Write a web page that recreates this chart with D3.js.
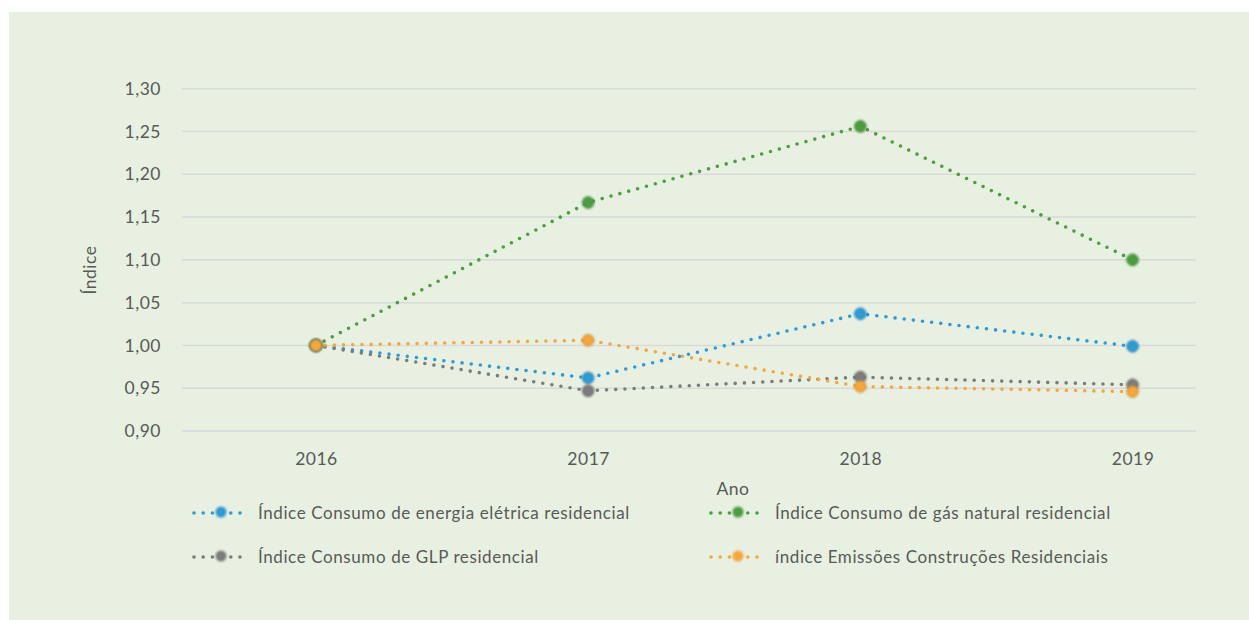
<!DOCTYPE html>
<html>
<head>
<meta charset="utf-8">
<script src="https://cdn.jsdelivr.net/npm/d3@7"></script>
<style>
  body { margin: 0; background: #ffffff; }
  text { font-family: Lato, "Open Sans", sans-serif; fill: #595959; }
</style>
</head>
<body>
<div id="chart"></div>
<script>
// data
var years = [2016, 2017, 2018, 2019];
var yTicks = [0.90, 0.95, 1.00, 1.05, 1.10, 1.15, 1.20, 1.25, 1.30];
var energia = [1.000, 0.962, 1.037, 0.999];
var gas = [1.000, 1.167, 1.256, 1.100];
var glp = [1.000, 0.947, 0.963, 0.954];
var emissoes = [1.000, 1.006, 0.952, 0.946];

var series = [
  {name: "Índice Consumo de energia elétrica residencial", values: energia, color: "#2E9AD6", col: 0, row: 0},
  {name: "Índice Consumo de gás natural residencial", values: gas, color: "#4A9E3C", col: 1, row: 0},
  {name: "Índice Consumo de GLP residencial", values: glp, color: "#7B7B7B", col: 0, row: 1},
  {name: "índice Emissões Construções Residenciais", values: emissoes, color: "#F4A73C", col: 1, row: 1}
];

var W = 1249, H = 620;
var svg = d3.select("#chart").append("svg")
  .attr("width", W).attr("height", H);

// chart area background
svg.append("rect")
  .attr("x", 9).attr("y", 12)
  .attr("width", W - 9).attr("height", H - 12)
  .attr("fill", "#E8F0E1");

var x = d3.scaleLinear()
  .domain([2015.508, 2019.233])
  .range([182, 1196]);

var y = d3.scaleLinear()
  .domain([0.90, 1.30])
  .range([431, 88.7]);

// gridlines
svg.append("g")
  .selectAll("line")
  .data(yTicks)
  .enter()
  .append("line")
    .attr("x1", x.range()[0]).attr("x2", x.range()[1])
    .attr("y1", function(d) { return y(d); })
    .attr("y2", function(d) { return y(d); })
    .attr("stroke", "#D9D9DC")
    .attr("stroke-width", 1.5);

// y axis labels
var yAxis = svg.append("g")
  .attr("transform", "translate(182,0)")
  .call(d3.axisLeft(y).tickValues(yTicks).tickSize(0).tickPadding(21)
    .tickFormat(function(d) { return d3.format(".2f")(d).replace(".", ","); }));
yAxis.select(".domain").remove();
yAxis.selectAll("text")
  .style("font-size", "17.5px")
  .style("letter-spacing", "0.5px")
  .style("font-family", "Lato, sans-serif")
  .attr("fill", "#595959");

// x axis labels
var xAxis = svg.append("g")
  .attr("transform", "translate(0,431)")
  .call(d3.axisBottom(x).tickValues(years).tickSize(0).tickPadding(22)
    .tickFormat(d3.format("d")));
xAxis.select(".domain").remove();
xAxis.selectAll("text")
  .style("font-size", "17.5px")
  .style("letter-spacing", "0.5px")
  .style("font-family", "Lato, sans-serif")
  .attr("fill", "#595959");

// axis titles
svg.append("text")
  .attr("x", 733).attr("y", 495)
  .attr("text-anchor", "middle")
  .style("font-size", "17.5px")
  .style("letter-spacing", "0.5px")
  .text("Ano");

svg.append("text")
  .attr("transform", "translate(96,270)rotate(-90)")
  .attr("text-anchor", "middle")
  .style("font-size", "17.5px")
  .style("letter-spacing", "0.5px")
  .text("Índice");

// soft glow for markers
var defs = svg.append("defs");
var blur = defs.append("filter").attr("id", "soft")
  .attr("x", "-50%").attr("y", "-50%").attr("width", "200%").attr("height", "200%");
blur.append("feGaussianBlur").attr("stdDeviation", 0.9);

var line = d3.line()
  .x(function(d, i) { return x(years[i]); })
  .y(function(d) { return y(d); });

series.forEach(function(s) {
  svg.append("path")
    .datum(s.values)
    .attr("d", line)
    .attr("fill", "none")
    .attr("stroke", s.color)
    .attr("stroke-width", 3.6)
    .attr("stroke-linecap", "round")
    .attr("stroke-dasharray", "0 9.2");
});

series.forEach(function(s) {
  svg.append("g")
    .selectAll("circle")
    .data(s.values)
    .enter()
    .append("circle")
      .attr("cx", function(d, i) { return x(years[i]); })
      .attr("cy", function(d) { return y(d); })
      .attr("r", 5.8)
      .attr("fill", s.color)
      .attr("stroke", d3.color(s.color).darker(0.6))
      .attr("stroke-width", 1)
      .attr("filter", "url(#soft)");
});

// legend
var legend = svg.append("g");
var colX = [194, 711], rowY = [513, 557];
series.forEach(function(s) {
  var g = legend.append("g")
    .attr("transform", "translate(" + colX[s.col] + "," + rowY[s.row] + ")");
  g.append("line")
    .attr("x1", 0).attr("x2", 54)
    .attr("y1", 0).attr("y2", 0)
    .attr("stroke", s.color)
    .attr("stroke-width", 3.6)
    .attr("stroke-linecap", "round")
    .attr("stroke-dasharray", "0 9.2");
  g.append("circle")
    .attr("cx", 27).attr("cy", -1).attr("r", 5.5)
    .attr("fill", s.color)
    .attr("filter", "url(#soft)");
  g.append("text")
    .attr("x", 64).attr("y", 6)
    .style("font-size", "17px")
    .style("letter-spacing", "0.6px")
    .text(s.name);
});
</script>
</body>
</html>
